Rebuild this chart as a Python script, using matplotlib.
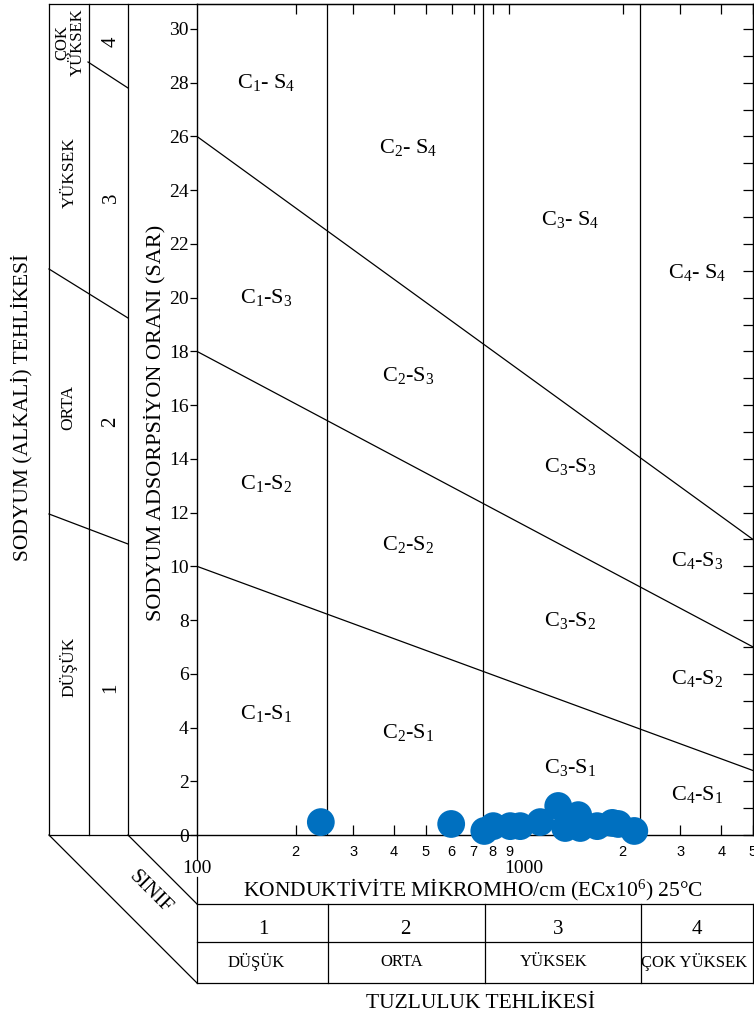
import numpy as np
import matplotlib
matplotlib.use("Agg")
import matplotlib.pyplot as plt

plt.rcParams['font.family'] = ['Liberation Serif', 'DejaVu Serif']
plt.rcParams['mathtext.fontset'] = 'custom'
plt.rcParams['mathtext.rm'] = 'Liberation Serif'
plt.rcParams['mathtext.it'] = 'Liberation Serif'

# samples: conductivity (micromho/cm) and SAR
ec = [239, 598, 755, 804, 906, 972, 1119, 1270, 1334, 1462, 1483, 1671, 1858, 1937, 2169]
sar = [0.48, 0.41, 0.15, 0.33, 0.33, 0.33, 0.48, 1.08, 0.26, 0.74, 0.26, 0.33, 0.45, 0.41, 0.15]

# class boundaries
c_bounds = [250, 750, 2250]
s_left = [10, 18, 26]      # SAR at EC=100
s_right = [2.4, 7.0, 11.0]  # SAR at EC=5000

# region labels
c_pos = [163, 442, 1384, 3380]
region_y = {
    4: [28.0, 25.6, 22.9, 20.95],
    3: [20.0, 17.1, 13.7, 10.2],
    2: [13.1, 10.8, 8.0, 5.84],
    1: [4.54, 3.83, 2.53, 1.49],
}

minor_ticks = [200, 300, 400, 500, 600, 700, 800, 900, 2000, 3000, 4000, 5000]
minor_labels = ['2', '3', '4', '5', '6', '7', '8', '9', '2', '3', '4', '5']

sal_nums = ['1', '2', '3', '4']
sal_words = ['DÜŞÜK', 'ORTA', 'YÜKSEK', 'ÇOK YÜKSEK']

W, H = 754, 1022
fig = plt.figure(figsize=(W / 100, H / 100), dpi=100)

# pixel-space overlay for the frame around the chart
deco = fig.add_axes([0, 0, 1, 1], zorder=0)
deco.set_xlim(0, W)
deco.set_ylim(H, 0)
deco.axis('off')
lk = dict(color='black', lw=0.9)
for x in [49, 89, 128]:
    deco.plot([x, x], [4, 835], **lk)
deco.plot([49, 197], [4, 4], **lk)
deco.plot([49, 197], [835, 835], **lk)
deco.plot([49, 128], [269, 318], **lk)
deco.plot([49, 128], [514, 544], **lk)
deco.plot([88, 128], [62, 88], **lk)
deco.plot([49, 197], [835, 983], **lk)
deco.plot([128, 197], [835, 904], **lk)
deco.plot([197, 197], [835, 860], **lk)
deco.plot([197, 197], [877, 983], **lk)
for y in [904, 942, 983]:
    deco.plot([197, 754], [y, y], **lk)
for x in [328, 485, 641, 753]:
    deco.plot([x, x], [904, 983], **lk)

deco.text(22, 407, 'SODYUM (ALKALİ) TEHLİKESİ', rotation=90, fontsize=15.5,
          ha='center', va='center')
deco.text(155, 423, 'SODYUM ADSORPSİYON ORANI (SAR)', rotation=90, fontsize=16,
          ha='center', va='center')
deco.text(70, 42, 'ÇOK\nYÜKSEK', rotation=90, fontsize=12, ha='center',
          va='center', linespacing=0.9)
deco.text(70, 173, 'YÜKSEK', rotation=90, fontsize=12.5, ha='center', va='center')
deco.text(68, 407, 'ORTA', rotation=90, fontsize=12.5, ha='center', va='center')
deco.text(68, 667, 'DÜŞÜK', rotation=90, fontsize=12.5, ha='center', va='center')
for t, y in zip(['4', '3', '2', '1'], [42, 198, 422, 688]):
    deco.text(111, y, t, rotation=90, fontsize=15, ha='center', va='center')
deco.text(150, 892, 'SINIF', rotation=-45, fontsize=15, ha='center', va='center')
deco.text(473, 890, 'KONDUKTİVİTE MİKROMHO/cm (ECx10$^{6}$) 25°C', fontsize=15.5,
          ha='center', va='center')
for t, x in zip(sal_nums, [263, 405, 558, 697]):
    deco.text(x, 929, t, fontsize=15, ha='center', va='center')
for t, x in zip(sal_words, [256, 402, 554, 694]):
    deco.text(x, 962, t, fontsize=12, ha='center', va='center')
deco.text(481, 1004, 'TUZLULUK TEHLİKESİ', fontsize=15.5, ha='center', va='center')

# main diagram
ax = fig.add_axes([197 / W, 1 - 835 / H, (753 - 197) / W, 831 / H], zorder=1)
ax.set_xscale('log')
ax.set_xlim(100, 5000)
ax.set_ylim(0, 30.93)

for c in c_bounds:
    ax.axvline(c, color='black', lw=0.9)
for l, r in zip(s_left, s_right):
    ax.plot([100, 5000], [l, r], color='black', lw=0.9)

for s, ys in region_y.items():
    for i, (x, y) in enumerate(zip(c_pos, ys)):
        if s == 4:
            lab = 'C$_{%d}$- S$_{%d}$' % (i + 1, s)
        else:
            lab = 'C$_{%d}$-S$_{%d}$' % (i + 1, s)
        ax.text(x, y, lab, fontsize=16, ha='center', va='center')

ax.scatter(ec, sar, s=400, color='#0070C0', edgecolors='none', zorder=5,
           clip_on=False)

# y ticks
ax.set_yticks(np.arange(0, 31, 2))
ax.tick_params(axis='y', direction='out', length=5, width=0.9, pad=1,
               labelsize=14)
# x ticks
ax.set_xticks([100, 1000], labels=['100', '1000'])
ax.set_xticks(minor_ticks, labels=minor_labels, minor=True)
ax.tick_params(axis='x', which='major', length=0, pad=18, labelsize=14)
ax.tick_params(axis='x', which='minor', direction='in', length=7, width=0.9,
               pad=7, labelsize=10.5, labelfontfamily='Liberation Sans')
for sp in ax.spines.values():
    sp.set_linewidth(1.0)

top = ax.secondary_xaxis('top')
top.set_xticks([])
top.set_xticks(minor_ticks, minor=True)
top.tick_params(which='minor', direction='in', length=7, width=0.9, labeltop=False)
top.tick_params(which='major', length=0)
top.xaxis.set_minor_formatter(plt.NullFormatter())

right = ax.secondary_yaxis('right')
right.set_yticks(np.arange(0, 31, 1))
right.tick_params(direction='in', length=7, width=0.9, labelright=False)

fig.savefig('out.png', dpi=100)
